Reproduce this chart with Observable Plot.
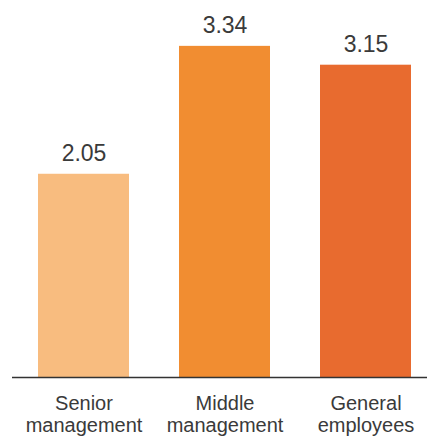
<!DOCTYPE html>
<html>
<head>
<meta charset="utf-8">
<script src="https://cdn.jsdelivr.net/npm/d3@7"></script>
<script src="https://cdn.jsdelivr.net/npm/@observablehq/plot@0.6"></script>
<style>
  html, body { margin: 0; padding: 0; background: #fff; }
  #chart svg { display: block; }
</style>
</head>
<body>
<div id="chart"></div>
<script>
const categories = ["Senior\nmanagement", "Middle\nmanagement", "General\nemployees"];
const values = [2.05, 3.34, 3.15];
const colors = ["#F8BC7F", "#F18D31", "#E86B2F"];

const data = categories.map((c, i) => ({category: c, value: values[i], color: colors[i]}));

const chart = Plot.plot({
  width: 427,
  height: 437,
  marginLeft: 37,
  marginRight: 16,
  marginTop: 30,
  marginBottom: 60,
  style: {fontFamily: "'Liberation Sans', Arial, sans-serif", color: "#3a3a3a", background: "#fff"},
  x: {domain: categories, paddingInner: 0.357, paddingOuter: 0, label: null},
  y: {domain: [0, 3.5], axis: null},
  marks: [
    Plot.barY(data, {x: "category", y: "value", fill: "color"}),
    Plot.ruleY([0], {stroke: "#333", strokeWidth: 1.5, insetLeft: -25, insetRight: -16}),
    Plot.text(data, {x: "category", y: "value", text: d => d.value.toFixed(2), dy: -13, lineAnchor: "bottom", fontSize: 23, fill: "#3a3a3a"}),
    Plot.axisX({tickSize: 0, tickPadding: 17, fontSize: 20, lineHeight: 1.1, fill: "#3a3a3a", label: null})
  ]
});
document.getElementById("chart").append(chart);
</script>
</body>
</html>
